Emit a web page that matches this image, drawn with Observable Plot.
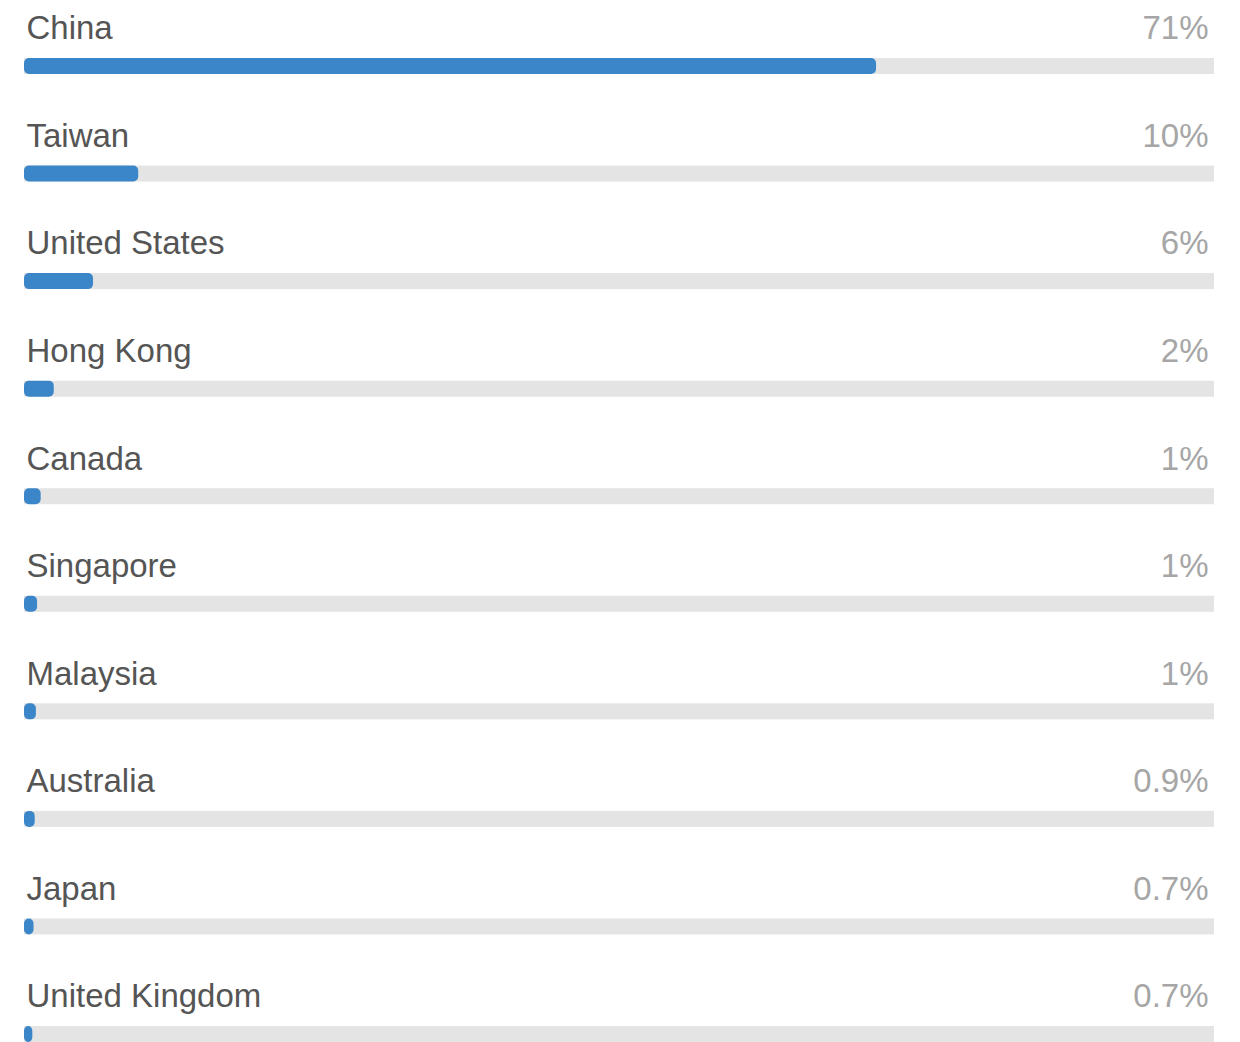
<!DOCTYPE html>
<html>
<head>
<meta charset="utf-8">
<script src="https://cdn.jsdelivr.net/npm/d3@7"></script>
<script src="https://cdn.jsdelivr.net/npm/@observablehq/plot@0.6"></script>
<style>
  html, body { margin: 0; padding: 0; background: #fff; }
  #chart { width: 1240px; height: 1042px; }
  svg { display: block; }
</style>
</head>
<body>
<div id="chart"></div>
<script>
const countries = ["China", "Taiwan", "United States", "Hong Kong", "Canada", "Singapore", "Malaysia", "Australia", "Japan", "United Kingdom"];
const shares = [71.6, 9.6, 5.8, 2.5, 1.4, 1.1, 1.0, 0.9, 0.8, 0.7];
const shareLabels = ["71%", "10%", "6%", "2%", "1%", "1%", "1%", "0.9%", "0.7%", "0.7%"];

const data = countries.map((c, i) => ({country: c, share: shares[i], label: shareLabels[i]}));

const chart = Plot.plot({
  width: 1240,
  height: 1042,
  marginTop: 0, marginBottom: 0, marginLeft: 0, marginRight: 0,
  style: {fontFamily: "'Liberation Sans', Arial, Helvetica, sans-serif", background: "#fff"},
  x: {domain: [0, 100], range: [24, 1214], axis: null},
  y: {domain: countries, range: [12.22, 1087.78], paddingInner: 0.851, paddingOuter: 0.4255, align: 0.5, round: false, axis: null},
  marks: [
    Plot.barX(data, {y: "country", x1: 0, x2: 100, fill: "#e4e4e4"}),
    Plot.barX(data, {y: "country", x1: 0, x2: "share", fill: "#3b86c8", rx: 5}),
    Plot.text(data, {y: "country", x: 0, text: "country", textAnchor: "start", lineAnchor: "middle", dx: 2, dy: -37.7, fontSize: 33, fill: "#555"}),
    Plot.text(data, {y: "country", x: 100, text: "label", textAnchor: "end", lineAnchor: "middle", dx: -6, dy: -37.7, fontSize: 33, fill: "#a6a6a6"})
  ]
});
document.getElementById("chart").appendChild(chart);
</script>
</body>
</html>
